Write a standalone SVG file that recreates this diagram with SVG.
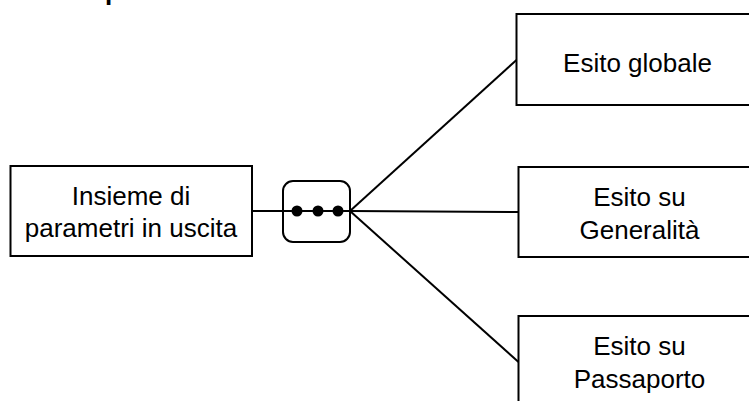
<svg xmlns="http://www.w3.org/2000/svg" width="749" height="401" viewBox="0 0 749 401">
<style>
.box{fill:#fff;stroke:#000;stroke-width:2}
.lbl{font-family:"Liberation Sans",Arial,sans-serif;font-size:26px;fill:#000;text-anchor:middle}
.ttl{font-family:"Liberation Sans",Arial,sans-serif;font-size:26px;font-weight:bold;fill:#000}
.conn{stroke:#000;stroke-width:2;fill:none}
</style>
<rect width="749" height="401" fill="#fff"/>
<text class="ttl" x="105" y="0">p</text>
<g id="connectors">
<line class="conn" x1="252" y1="211" x2="350" y2="211"/>
<line class="conn" x1="350" y1="211" x2="516.5" y2="60"/>
<line class="conn" x1="350" y1="211" x2="518.5" y2="212"/>
<line class="conn" x1="350" y1="211" x2="518.5" y2="362"/>
</g>
<g id="node-input">
<rect class="box" x="10.5" y="166" width="241.5" height="90"/>
<text class="lbl" x="131" y="205">Insieme di</text>
<text class="lbl" x="131" y="237">parametri in uscita</text>
</g>
<g id="node-ellipsis">
<rect x="283" y="181" width="67" height="61" rx="10" ry="10" fill="none" stroke="#000" stroke-width="2"/>
<line class="conn" x1="283" y1="211" x2="350" y2="211"/>
<circle cx="297" cy="211" r="5.5" fill="#000"/>
<circle cx="318" cy="211" r="5.5" fill="#000"/>
<circle cx="338" cy="211" r="5.5" fill="#000"/>
</g>
<g id="node-globale">
<rect class="box" x="516.5" y="14" width="242" height="91"/>
<text class="lbl" x="637.5" y="72">Esito globale</text>
</g>
<g id="node-generalita">
<rect class="box" x="518.5" y="167" width="242" height="90"/>
<text class="lbl" x="639.5" y="206">Esito su</text>
<text class="lbl" x="639.5" y="239">Generalità</text>
</g>
<g id="node-passaporto">
<rect class="box" x="518.5" y="316" width="242" height="90"/>
<text class="lbl" x="639.5" y="355">Esito su</text>
<text class="lbl" x="639.5" y="388">Passaporto</text>
</g>
</svg>
